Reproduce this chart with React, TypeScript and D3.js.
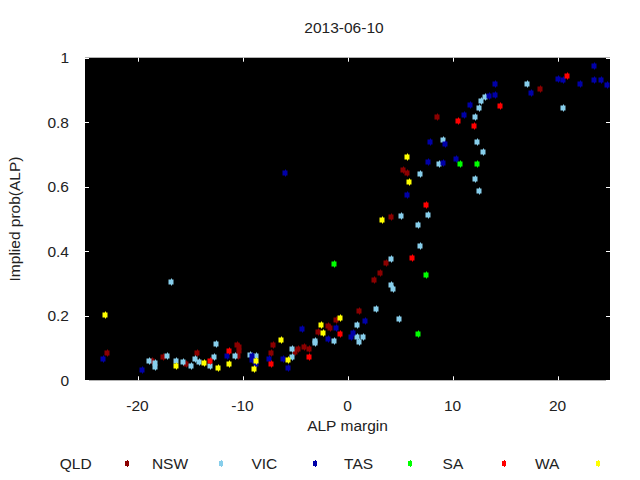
import { useEffect, useRef } from 'react';
import * as d3 from 'd3';

type Pt = [number, number];

// points per state: [ALP margin, implied prob]
const qld: Pt[] = [
  [-22.95, 0.085], [-18.6, 0.059], [-17.6, 0.072], [-15.4, 0.052], [-14.29, 0.084],
  [-10.48, 0.108], [-10.29, 0.104], [-10.38, 0.092], [-10.4, 0.075], [-7.05, 0.108],
  [-7.24, 0.084], [-5.0, 0.088], [-4.67, 0.096], [-4.19, 0.102], [-3.62, 0.096],
  [-2.82, 0.149], [-1.9, 0.168], [-1.62, 0.161], [-1.14, 0.186], [1.05, 0.215],
  [2.48, 0.311], [3.14, 0.332], [3.62, 0.363], [4.19, 0.505], [5.33, 0.651],
  [5.71, 0.642], [8.48, 0.815], [18.29, 0.902],
];
const nsw: Pt[] = [
  [-16.85, 0.306], [-18.95, 0.06], [-18.3, 0.055], [-18.3, 0.042], [-17.2, 0.074],
  [-16.3, 0.059], [-15.7, 0.057], [-14.95, 0.043], [-14.57, 0.065], [-14.19, 0.056],
  [-13.14, 0.043], [-12.76, 0.072], [-12.57, 0.112], [-10.76, 0.074], [-9.33, 0.077],
  [-8.76, 0.074], [-5.33, 0.096], [-5.33, 0.073], [-3.05, 0.121], [-3.14, 0.115],
  [-1.33, 0.121], [0.95, 0.171], [0.86, 0.133], [1.43, 0.133], [1.05, 0.118],
  [2.67, 0.22], [4.19, 0.295], [4.38, 0.283], [4.9, 0.189], [4.19, 0.375],
  [6.86, 0.415], [6.76, 0.48], [5.14, 0.508], [7.71, 0.511], [6.95, 0.639],
  [8.76, 0.67], [9.05, 0.745], [12.29, 0.738], [12.86, 0.707], [12.19, 0.623],
  [12.48, 0.586], [12.1, 0.815], [12.48, 0.843], [12.67, 0.865], [13.14, 0.877],
  [17.05, 0.917], [20.57, 0.843],
];
const vic: Pt[] = [
  [-23.3, 0.066], [-19.6, 0.031], [-11.52, 0.074], [-9.14, 0.074], [-9.05, 0.062],
  [-8.67, 0.05], [-7.52, 0.065], [-6.1, 0.065], [-5.71, 0.037], [-6.0, 0.642],
  [-4.29, 0.159], [-1.9, 0.127], [-1.14, 0.161], [0.57, 0.146], [0.29, 0.133],
  [1.62, 0.183], [5.71, 0.573], [7.62, 0.676], [7.81, 0.738], [9.14, 0.673],
  [9.33, 0.731], [10.38, 0.685], [11.05, 0.821], [11.62, 0.852], [13.43, 0.88],
  [14, 0.883], [14, 0.917], [17.43, 0.89], [20, 0.933], [20.57, 0.93],
  [22.1, 0.92], [23.43, 0.973], [23.52, 0.93], [24.1, 0.93], [24.76, 0.914],
];
const tas: Pt[] = [
  [-1.24, 0.36], [6.67, 0.143], [7.43, 0.325], [10.76, 0.67], [12.29, 0.67],
];
const sa: Pt[] = [
  [-13.05, 0.06], [-11.24, 0.091], [-7.33, 0.05], [-3.62, 0.071], [-0.67, 0.144],
  [6.1, 0.378], [7.43, 0.542], [10.48, 0.803], [12, 0.787], [14.48, 0.849],
  [20.95, 0.942],
];
const wa: Pt[] = [
  [-23.05, 0.202], [-16.3, 0.043], [-13.7, 0.053], [-12.38, 0.037], [-11.24, 0.05],
  [-8.76, 0.059], [-8.95, 0.034], [-6.38, 0.124], [-5.62, 0.062], [-2.57, 0.171],
  [-2.29, 0.147], [-0.67, 0.192], [3.24, 0.496], [5.62, 0.691], [5.81, 0.614],
];

const states = ['QLD', 'NSW', 'VIC', 'TAS', 'SA', 'WA'];
const stateData = [qld, nsw, vic, tas, sa, wa];
const stateColors = ['#8b0000', '#87ceeb', '#0000a8', '#00ff00', '#ff0000', '#ffff00'];

const xTicks = [-20, -10, 0, 10, 20];
const yTicks = [0, 0.2, 0.4, 0.6, 0.8, 1];

const W = 640;
const H = 480;
const font = '"Liberation Sans", Arial, sans-serif';
const fs = 15.5;

export default function App() {
  const svgRef = useRef<SVGSVGElement>(null);

  useEffect(() => {
    if (!svgRef.current) return;
    const svg = d3.select(svgRef.current);
    svg.selectAll('*').remove();

    const x = d3.scaleLinear().domain([-25, 25]).range([85, 610]);
    const y = d3.scaleLinear().domain([0, 1]).range([380.3, 57.7]);
    const [x0, x1] = x.range();
    const [y0, y1] = y.range();

    svg.append('rect').attr('width', W).attr('height', H).attr('fill', '#fff');
    svg.append('rect')
      .attr('x', x0).attr('y', y1)
      .attr('width', x1 - x0).attr('height', y0 - y1)
      .attr('fill', '#000');

    // ticks drawn inward on all four sides
    const tk = 4;
    const g = svg.append('g').attr('stroke', '#fff').attr('stroke-width', 1);
    xTicks.forEach(t => {
      const px = Math.round(x(t)) + 0.5;
      g.append('line').attr('x1', px).attr('x2', px).attr('y1', y0).attr('y2', y0 - tk);
      g.append('line').attr('x1', px).attr('x2', px).attr('y1', y1).attr('y2', y1 + tk);
    });
    yTicks.forEach(t => {
      const py = Math.round(y(t)) + 0.5;
      g.append('line').attr('x1', x0).attr('x2', x0 + tk).attr('y1', py).attr('y2', py);
      g.append('line').attr('x1', x1).attr('x2', x1 - tk).attr('y1', py).attr('y2', py);
    });

    const txt = svg.append('g')
      .attr('font-family', font).attr('font-size', fs).attr('fill', '#222');

    txt.selectAll('.xt').data(xTicks).enter().append('text')
      .attr('x', d => x(d)).attr('y', 411)
      .attr('text-anchor', 'middle')
      .text(d => String(d));

    txt.selectAll('.yt').data(yTicks).enter().append('text')
      .attr('x', 69).attr('y', d => y(d) + 5.5)
      .attr('text-anchor', 'end')
      .text(d => String(d));

    txt.append('text').attr('x', 344).attr('y', 33)
      .attr('text-anchor', 'middle').text('2013-06-10');
    txt.append('text').attr('x', (x0 + x1) / 2).attr('y', 431)
      .attr('text-anchor', 'middle').text('ALP margin');
    txt.append('text')
      .attr('transform', `translate(20,${(y0 + y1) / 2}) rotate(-90)`)
      .attr('text-anchor', 'middle').text('Implied prob(ALP)');

    // points
    stateData.forEach((pts, i) => {
      const sg = svg.append('g');
      const m = sg.selectAll('g').data(pts).enter().append('g')
        .attr('transform', d => `translate(${Math.round(x(d[0]))},${Math.round(y(d[1]))})`);
      m.append('rect')
        .attr('x', -2.5).attr('y', -2.5).attr('width', 5).attr('height', 5)
        .attr('fill', stateColors[i]);
      m.append('line')
        .attr('x1', 0.5).attr('x2', 0.5).attr('y1', -3.5).attr('y2', 3.5)
        .attr('stroke', stateColors[i]).attr('stroke-width', 1);
    });

    // legend: label followed by its marker
    const leg = svg.append('g');
    states.forEach((s, i) => {
      const mx = 126.7 + 94.3 * i;
      leg.append('text')
        .attr('x', mx - 51).attr('y', 469)
        .attr('text-anchor', 'middle')
        .attr('font-family', font).attr('font-size', fs).attr('fill', '#222')
        .text(s);
      leg.append('rect')
        .attr('x', Math.round(mx) - 2).attr('y', 461).attr('width', 4).attr('height', 5)
        .attr('fill', stateColors[i]);
      leg.append('line')
        .attr('x1', Math.round(mx) + 0.5).attr('x2', Math.round(mx) + 0.5)
        .attr('y1', 460).attr('y2', 467)
        .attr('stroke', stateColors[i]);
    });
  }, []);

  return (
    <svg
      ref={svgRef}
      width={W}
      height={H}
      style={{ position: 'absolute', left: 0, top: 0 }}
    />
  );
}
